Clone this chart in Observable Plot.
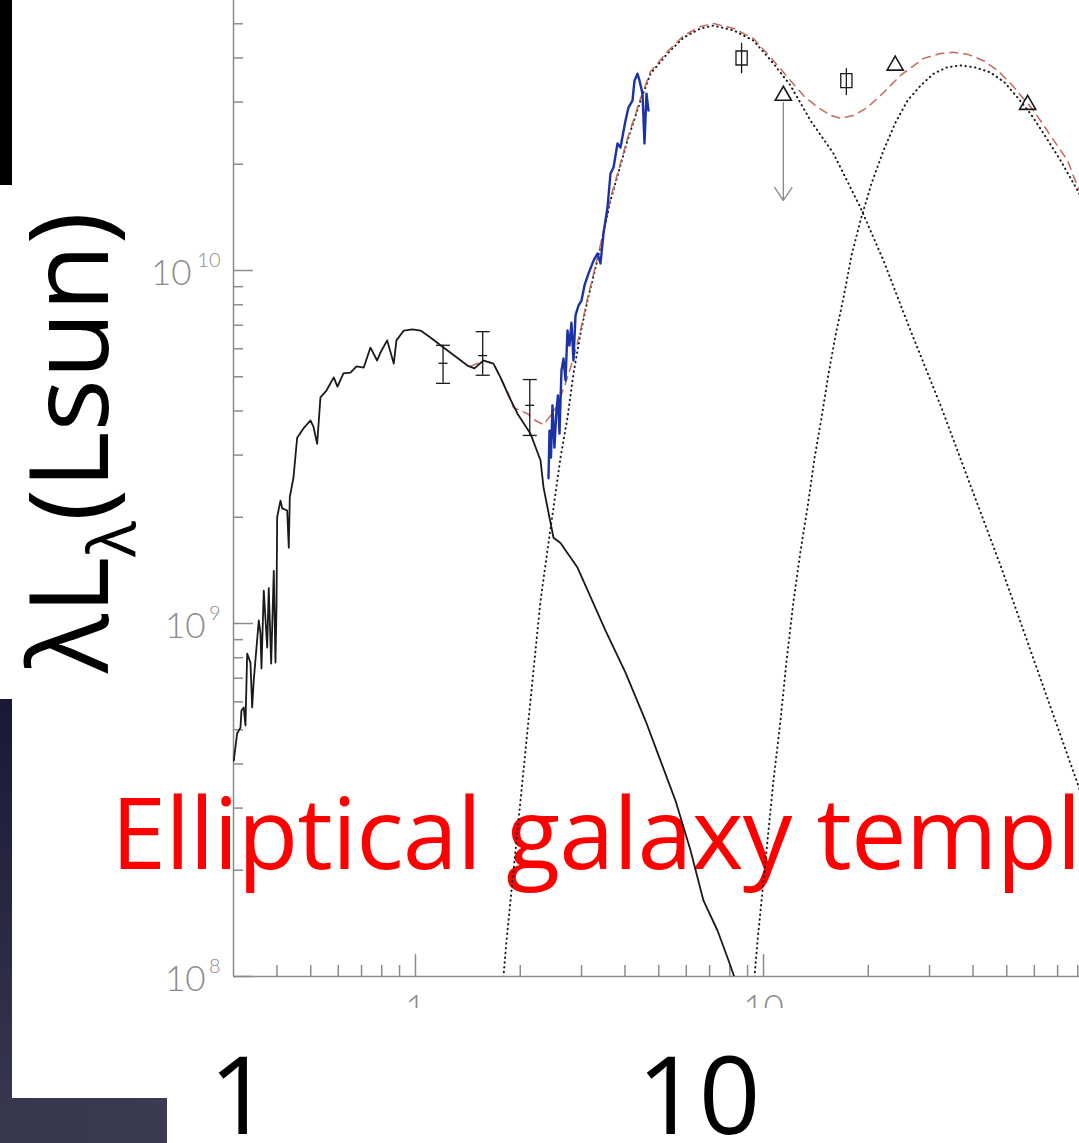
<!DOCTYPE html>
<html>
<head>
<meta charset="utf-8">
<script src="https://cdn.jsdelivr.net/npm/d3@7"></script>
<script src="https://cdn.jsdelivr.net/npm/@observablehq/plot@0.6"></script>
<style>
  html, body { margin: 0; padding: 0; background: #fff; overflow: hidden; }
  #slide { position: relative; width: 1079px; height: 1143px; overflow: hidden; background: #fff; }
  #chart { position: absolute; left: 0; top: 0; z-index: 2; }
  .layer { position: absolute; left: 0; top: 0; }
  #under { z-index: 1; }
  #cover { position: absolute; left: 0; top: 1008px; width: 1079px; height: 135px; background: #fff; z-index: 3; }
  #over { z-index: 4; }
  .bar { position: absolute; z-index: 5; }
  #barTop { left: 0; top: 0; width: 12px; height: 185px; background: #000; }
  #barSide { left: 0; top: 699px; width: 12px; height: 399px; background: linear-gradient(to bottom, #191935, #35364b); }
  #barBottom { left: 0; top: 1098px; width: 167px; height: 45px; background: linear-gradient(to right, #36374c, #3a3b50); }
  .slideText { font-family: "Gill Sans", "Gill Sans MT", "Open Sans", sans-serif; }
</style>
</head>
<body>
<div id="slide">
  <svg id="under" class="layer slideText" width="1079" height="1143">
    <text x="111" y="869" font-size="99" letter-spacing="-0.8" fill="#ff0000">Elliptical galaxy templates</text>
  </svg>
  <div id="chart"></div>
  <div id="cover"></div>
  <svg id="over" class="layer slideText" width="1079" height="1143">
    <text transform="translate(108,673) rotate(-90)" font-size="110" fill="#000">λL<tspan font-size="66" dy="27">λ</tspan><tspan dy="-27">(Lsun)</tspan></text>
    <text x="209" y="1134" font-size="108" fill="#000">1</text>
    <text x="637" y="1134" font-size="108" fill="#000">10</text>
  </svg>
  <div id="barTop" class="bar"></div>
  <div id="barSide" class="bar"></div>
  <div id="barBottom" class="bar"></div>
</div>
<script>
// Stellar population template (old elliptical), wavelength in micron, λLλ in Lsun
const stellarWave = [0.3005,0.3073,0.3142,0.3162,0.3210,0.3247,0.3284,0.3356,0.3394,0.3430,0.3546,0.3586,0.3610,0.3665,0.3749,0.3788,0.3849,0.3916,0.3960,0.3987,0.4005,0.4093,0.4140,0.4279,0.4325,0.4354,0.4461,0.4571,0.4766,0.4991,0.5091,0.5218,0.5333,0.5549,0.5823,0.5968,0.6209,0.6505,0.6768,0.7102,0.7424,0.7760,0.7934,0.8291,0.8661,0.8817,0.9256,0.9804,1.034,1.104,1.204,1.303,1.411,1.477,1.568,1.675,1.755,1.850,1.964,2.140,2.287,2.333,2.492,2.610,2.921,3.184,3.516,4.013,4.580,5.058,5.585,6.169,6.723,7.376,7.936,8.31];
const stellarLum = [4.09e8,4.88e8,5.07e8,5.67e8,5.78e8,5.14e8,8.22e8,7.75e8,5.78e8,6.90e8,1.02e9,9.37e8,7.46e8,1.24e9,8.55e8,1.26e9,7.70e8,1.41e9,7.75e8,1.11e9,2.00e9,2.23e9,2.12e9,2.09e9,1.64e9,2.28e9,2.59e9,3.36e9,3.57e9,3.76e9,3.61e9,3.23e9,4.37e9,4.57e9,4.98e9,4.69e9,5.11e9,5.14e9,5.35e9,5.31e9,6.05e9,5.56e9,5.86e9,6.34e9,5.45e9,6.34e9,6.76e9,6.81e9,6.76e9,6.46e9,6.05e9,5.71e9,5.38e9,5.28e9,5.56e9,5.45e9,4.98e9,4.43e9,3.93e9,3.45e9,2.90e9,2.43e9,1.75e9,1.69e9,1.44e9,1.19e9,9.55e8,7.26e8,5.31e8,4.09e8,3.15e8,2.28e8,1.64e8,1.35e8,1.11e8,9.74e7];

// Mid-infrared spectrum
const irsWave = [2.411,2.427,2.451,2.475,2.508,2.541,2.567,2.593,2.627,2.662,2.698,2.734,2.770,2.807,2.844,2.883,2.941,3.000,3.059,3.141,3.248,3.334,3.401,3.469,3.562,3.634,3.707,3.806,3.882,4.013,4.094,4.203,4.259,4.345,4.403,4.491,4.550,4.611,4.672];
const irsLum = [2.58e9,3.52e9,2.95e9,4.15e9,3.15e9,4.01e9,4.43e9,3.45e9,5.21e9,5.63e9,4.88e9,6.76e9,6.13e9,7.12e9,5.56e9,7.46e9,7.96e9,8.22e9,9.07e9,9.80e9,1.067e10,1.117e10,1.047e10,1.273e10,1.508e10,1.883e10,1.958e10,2.29e10,2.23e10,2.66e10,2.90e10,3.03e10,3.45e10,3.61e10,3.45e10,3.17e10,2.29e10,3.17e10,2.84e10];

// Warm dust component
const warmWave = [1.755,1.790,1.826,1.875,1.951,2.030,2.112,2.198,2.287,2.394,2.492,2.610,2.734,2.844,2.980,3.121,3.357,3.634,4.066,4.432,4.734,5.299,5.891,6.592,7.183,8.201,9.361,10.68,11.96,13.65,15.89,18.99,22.12,26.45,32.26,39.34,47.98,58.53,71.37,87.04];
const warmLum = [8.01e7,1.00e8,1.26e8,1.64e8,2.43e8,3.59e8,5.31e8,7.86e8,1.16e9,1.61e9,2.13e9,2.95e9,3.83e9,5.11e9,6.63e9,8.22e9,1.103e10,1.579e10,2.335e10,3.03e10,3.61e10,4.12e10,4.57e10,4.85e10,4.94e10,4.79e10,4.48e10,3.86e10,3.34e10,2.66e10,2.145e10,1.508e10,1.067e10,6.76e9,4.15e9,2.46e9,1.46e9,8.38e8,4.82e8,2.77e8];

// Cold dust component
const coldWave = [9.237,9.422,9.612,9.869,10.27,10.68,11.19,11.65,12.20,12.78,13.38,14.02,14.68,15.38,16.10,16.98,17.90,18.99,20.43,22.12,23.95,25.93,28.26,30.80,33.57,36.82,40.67,44.90,49.27,53.70,58.53,63.77,71.37,79.87,87.04];
const coldLum = [8.01e7,1.00e8,1.26e8,1.64e8,2.43e8,3.59e8,5.31e8,7.86e8,1.16e9,1.61e9,2.13e9,2.95e9,3.83e9,5.11e9,6.54e9,8.38e9,1.103e10,1.385e10,1.764e10,2.188e10,2.627e10,3.03e10,3.34e10,3.61e10,3.76e10,3.81e10,3.76e10,3.64e10,3.41e10,3.09e10,2.78e10,2.445e10,2.05e10,1.685e10,1.432e10];

// Total model (stars + dust)
const totalWave = [1.439,1.568,1.675,1.755,1.850,1.912,2.003,2.098,2.212,2.333,2.443,2.559,2.698,2.844,2.980,3.121,3.357,3.634,4.066,4.432,4.734,5.299,5.891,6.592,7.183,8.201,9.361,10.68,11.96,13.03,14.30,15.58,16.65,18.14,19.90,22.12,24.76,28.83,32.26,35.16,38.82,42.87,47.04,51.27,59.70,66.80,74.73,79.87,87.04];
const totalLum = [5.35e9,5.56e9,5.45e9,4.98e9,4.48e9,4.09e9,4.01e9,3.93e9,3.76e9,3.66e9,3.88e9,4.15e9,4.79e9,5.63e9,6.76e9,8.33e9,1.117e10,1.60e10,2.365e10,3.07e10,3.66e10,4.17e10,4.63e10,4.91e10,5.01e10,4.85e10,4.54e10,3.93e10,3.45e10,3.13e10,2.90e10,2.75e10,2.70e10,2.75e10,2.90e10,3.19e10,3.57e10,3.99e10,4.12e10,4.15e10,4.09e10,3.93e10,3.69e10,3.39e10,2.84e10,2.41e10,2.05e10,1.73e10,1.45e10];

// Near-infrared photometry with errors
const nirWave = [1.20, 1.56, 2.13];
const nirLum = [5.46e9, 5.74e9, 4.15e9];
const nirLo = [4.79e9, 5.05e9, 3.41e9];
const nirHi = [6.14e9, 6.71e9, 4.91e9];

// Mid-infrared photometry (squares) with errors
const sqWave = [8.65, 17.3];
const sqLum = [4.0e10, 3.45e10];
const sqLo = [3.61e10, 3.13e10];
const sqHi = [4.4e10, 3.73e10];

// Far-infrared photometry (triangles) and the upper limit
const triWave = [11.4, 23.9, 57.4];
const triLum = [3.13e10, 3.81e10, 2.95e10];
const limitWave = [11.4];
const limitFrom = [3.13e10];
const limitTo = [1.58e10];

// Axis ticks
const yMajor = [1e8, 1e9, 1e10];
const yMinor = [2e8,3e8,4e8,5e8,6e8,7e8,8e8,9e8,2e9,3e9,4e9,5e9,6e9,7e9,8e9,9e9,2e10,3e10,4e10,5e10];
const xMajor = [1, 10];
const xMinor = [0.4,0.5,0.6,0.7,0.8,0.9,2,3,4,5,6,7,8,9,20,30,40,50,60,70,80];

const rows = (w, l) => w.map((x, i) => ({wave: x, lum: l[i]}));
const stellar = rows(stellarWave, stellarLum);
const irs = rows(irsWave, irsLum);
const warm = rows(warmWave, warmLum);
const cold = rows(coldWave, coldLum);
const total = rows(totalWave, totalLum);
const nir = nirWave.map((x, i) => ({wave: x, lum: nirLum[i], lo: nirLo[i], hi: nirHi[i]}));
const squares = sqWave.map((x, i) => ({wave: x, lum: sqLum[i], lo: sqLo[i], hi: sqHi[i]}));
const triangles = rows(triWave, triLum);
const limits = limitWave.map((x, i) => ({wave: x, from: limitFrom[i], to: limitTo[i]}));

const GRAY = "#8c8c8c";
const INK = "#1a1a1a";

// horizontal bar used for error-bar caps
const capSymbol = {draw(ctx, size) { const r = Math.sqrt(size / Math.PI); ctx.moveTo(-r, 0); ctx.lineTo(r, 0); }};
// upright open box for the square photometry points
const boxSymbol = {draw(ctx, size) { const r = Math.sqrt(size / Math.PI); ctx.rect(-0.8 * r, -r, 1.6 * r, 2 * r); }};

const expo = (d) => String(Math.round(Math.log10(d)));
const baseLabel = (len) => Plot.text(yMajor.filter(d => expo(d).length === len), {
  y: d => d, text: () => "10", frameAnchor: "left", textAnchor: "end",
  dx: -14 - len * 14, dy: 3, fontSize: 35, fontWeight: 300, fill: GRAY
});

// dust components are drawn as round-dotted curves
const dotted = {stroke: INK, strokeWidth: 2, strokeDasharray: "0.4,4.4", strokeLinecap: "round", clip: true};

const chart = Plot.plot({
  width: 1079,
  height: 1143,
  marginLeft: 233,
  marginRight: 0,
  marginTop: 0,
  marginBottom: 167,
  x: {type: "log", domain: [0.3, 80.9]},
  y: {type: "log", domain: [1e8, 5.82e10]},
  style: {background: "transparent", fontFamily: "Lato, 'DejaVu Sans', sans-serif"},
  marks: [
    // axes: inward ticks, light gray
    Plot.axisX({ticks: xMinor, tickSize: -11, tickFormat: () => "", color: GRAY, strokeWidth: 1.5, label: null}),
    Plot.axisX({ticks: xMajor, tickSize: -22, tickPadding: 41, fontSize: 35, fontWeight: 300, color: GRAY, strokeWidth: 1.5, label: null}),
    Plot.axisY({ticks: yMinor, tickSize: -10, tickFormat: () => "", color: GRAY, strokeWidth: 1.5, label: null}),
    Plot.axisY({ticks: yMajor, tickSize: -20, tickFormat: () => "", color: GRAY, strokeWidth: 1.5, label: null}),
    baseLabel(1),
    baseLabel(2),
    Plot.text(yMajor, {y: d => d, text: expo, frameAnchor: "left", textAnchor: "end", dx: -13, dy: -10, fontSize: 20, fontWeight: 300, fill: GRAY}),
    Plot.ruleX([0.3], {stroke: GRAY, strokeWidth: 1.5}),
    Plot.ruleY([1e8], {stroke: GRAY, strokeWidth: 1.5}),

    // model components
    Plot.line(warm, {x: "wave", y: "lum", ...dotted}),
    Plot.line(cold, {x: "wave", y: "lum", ...dotted}),
    Plot.line(total, {x: "wave", y: "lum", stroke: "#c46a5e", strokeWidth: 1.5, strokeDasharray: "8,6", clip: true}),
    Plot.line(stellar, {x: "wave", y: "lum", stroke: INK, strokeWidth: 1.8, clip: true}),
    Plot.line(irs, {x: "wave", y: "lum", stroke: "#1b33a6", strokeWidth: 2.4, clip: true}),

    // near-IR photometry
    Plot.ruleX(nir, {x: "wave", y1: "lo", y2: "hi", stroke: INK, strokeWidth: 1.3}),
    Plot.dot(nir, {x: "wave", y: "lo", symbol: capSymbol, r: 7, fill: "none", stroke: INK, strokeWidth: 1.3}),
    Plot.dot(nir, {x: "wave", y: "hi", symbol: capSymbol, r: 7, fill: "none", stroke: INK, strokeWidth: 1.3}),
    Plot.dot(nir, {x: "wave", y: "lum", symbol: capSymbol, r: 4.5, fill: "none", stroke: INK, strokeWidth: 1.3}),

    // mid-IR photometry
    Plot.ruleX(squares, {x: "wave", y1: "lo", y2: "hi", stroke: INK, strokeWidth: 1.3}),
    Plot.dot(squares, {x: "wave", y: "lum", symbol: boxSymbol, r: 7, fill: "none", stroke: INK, strokeWidth: 1.3}),

    // far-IR photometry and upper limit
    Plot.arrow(limits, {x1: "wave", x2: "wave", y1: "from", y2: "to", stroke: "#888", strokeWidth: 1.3, headLength: 18, headAngle: 68, insetStart: 7}),
    Plot.dot(triangles, {x: "wave", y: "lum", symbol: "triangle", r: 6, fill: "none", stroke: INK, strokeWidth: 1.6})
  ]
});
document.getElementById("chart").appendChild(chart);
</script>
</body>
</html>
